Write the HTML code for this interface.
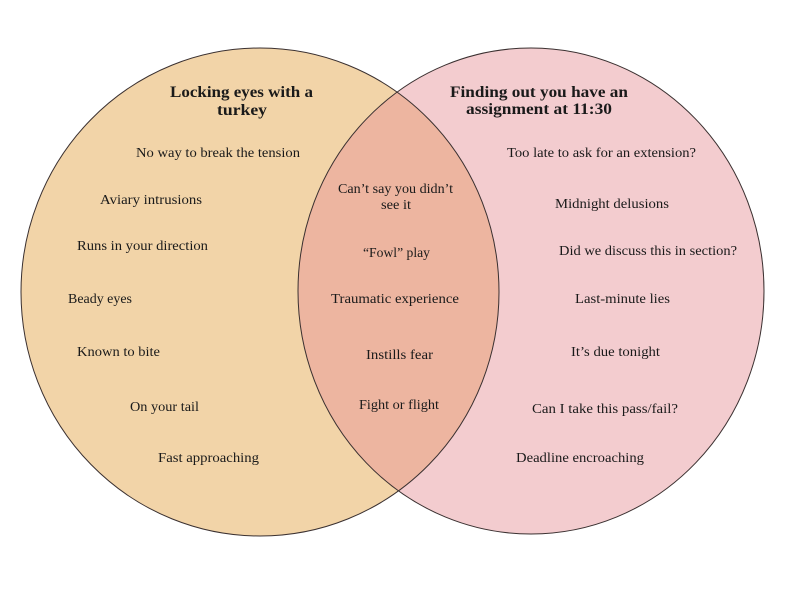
<!DOCTYPE html>
<html><head><meta charset="utf-8"><style>
html,body{margin:0;padding:0;background:#fff;}
svg{display:block;}
text{font-family:"Liberation Serif",serif;font-size:13.5px;fill:#1a1a1a;}
.t{font-weight:bold;font-size:15.5px;}
</style></head><body>
<svg width="800" height="600" viewBox="0 0 800 600" xmlns="http://www.w3.org/2000/svg">
<defs>
<clipPath id="cl"><ellipse cx="260" cy="292" rx="239" ry="244"/></clipPath>
</defs>
<ellipse cx="260" cy="292" rx="239" ry="244" fill="#F2D4A8"/>
<ellipse cx="531" cy="291" rx="233" ry="243" fill="#F3CCCF"/>
<ellipse cx="531" cy="291" rx="233" ry="243" fill="#EDB5A0" clip-path="url(#cl)"/>
<ellipse cx="260" cy="292" rx="239" ry="244" fill="none" stroke="#3a3030" stroke-width="1"/>
<ellipse cx="531" cy="291" rx="233" ry="243" fill="none" stroke="#3a3030" stroke-width="1"/>

<text class="t" x="170" y="97" textLength="143" lengthAdjust="spacingAndGlyphs">Locking eyes with a</text>
<text class="t" x="217" y="115" textLength="50" lengthAdjust="spacingAndGlyphs">turkey</text>
<text class="t" x="450" y="97" textLength="178" lengthAdjust="spacingAndGlyphs">Finding out you have an</text>
<text class="t" x="466" y="114" textLength="146" lengthAdjust="spacingAndGlyphs">assignment at 11:30</text>

<text x="136" y="157" textLength="164" lengthAdjust="spacingAndGlyphs">No way to break the tension</text>
<text x="100" y="204" textLength="102" lengthAdjust="spacingAndGlyphs">Aviary intrusions</text>
<text x="77" y="250" textLength="131" lengthAdjust="spacingAndGlyphs">Runs in your direction</text>
<text x="68" y="303" textLength="64" lengthAdjust="spacingAndGlyphs">Beady eyes</text>
<text x="77" y="356" textLength="83" lengthAdjust="spacingAndGlyphs">Known to bite</text>
<text x="130" y="411" textLength="69" lengthAdjust="spacingAndGlyphs">On your tail</text>
<text x="158" y="462" textLength="101" lengthAdjust="spacingAndGlyphs">Fast approaching</text>

<text x="338" y="193" textLength="115" lengthAdjust="spacingAndGlyphs">Can’t say you didn’t</text>
<text x="381" y="209" textLength="30" lengthAdjust="spacingAndGlyphs">see it</text>
<text x="363" y="257" textLength="67" lengthAdjust="spacingAndGlyphs">“Fowl” play</text>
<text x="331" y="303" textLength="128" lengthAdjust="spacingAndGlyphs">Traumatic experience</text>
<text x="366" y="359" textLength="67" lengthAdjust="spacingAndGlyphs">Instills fear</text>
<text x="359" y="409" textLength="80" lengthAdjust="spacingAndGlyphs">Fight or flight</text>

<text x="507" y="157" textLength="189" lengthAdjust="spacingAndGlyphs">Too late to ask for an extension?</text>
<text x="555" y="208" textLength="114" lengthAdjust="spacingAndGlyphs">Midnight delusions</text>
<text x="559" y="255" textLength="178" lengthAdjust="spacingAndGlyphs">Did we discuss this in section?</text>
<text x="575" y="303" textLength="95" lengthAdjust="spacingAndGlyphs">Last-minute lies</text>
<text x="571" y="356" textLength="89" lengthAdjust="spacingAndGlyphs">It’s due tonight</text>
<text x="532" y="413" textLength="146" lengthAdjust="spacingAndGlyphs">Can I take this pass/fail?</text>
<text x="516" y="462" textLength="128" lengthAdjust="spacingAndGlyphs">Deadline encroaching</text>
</svg>
</body></html>
